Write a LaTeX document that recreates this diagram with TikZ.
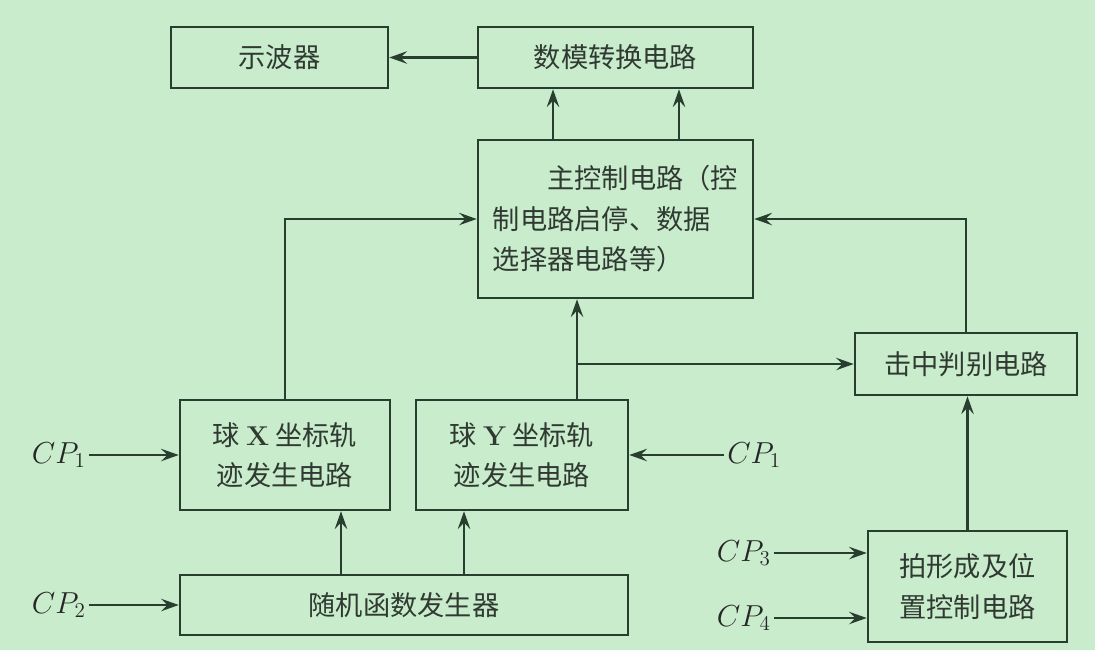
\documentclass[tikz,border=0pt]{standalone}
\usepackage{fontspec}
\newfontfamily\cjk{Noto Sans CJK SC}
\usetikzlibrary{arrows.meta, positioning}
\definecolor{bggreen}{RGB}{200,236,204}
\definecolor{linegreen}{RGB}{40,62,46}
\definecolor{textgray}{RGB}{48,58,50}

\begin{document}
\begin{tikzpicture}[
   x=0.02cm, y=-0.02cm,
   color=linegreen, line width=1.45pt,
   -{Stealth[length=10pt, width=7pt, inset=3.5pt]},
   block/.style = {draw, rectangle, inner sep=0pt, text=textgray, align=center,
                   font=\cjk\fontsize{15.5pt}{23pt}\selectfont},
   clk/.style = {inner sep=1pt, text=black!85, font=\fontsize{17pt}{20pt}\selectfont}]
   \fill[bggreen] (0,0) rectangle (1095,650);
   \useasboundingbox (0,0) rectangle (1095,650);

   \node[block, minimum width=4.34cm, minimum height=1.22cm] (osc) at (279.5,57.5) {示波器};
   \node[block, minimum width=5.5cm, minimum height=1.22cm]  (dac) at (615.5,57.5) {数模转换电路};
   \node[block, minimum width=5.5cm, minimum height=3.16cm, align=left] (ctrl) at (615.5,219)
      {\hspace{2em}主控制电路（控\\制电路启停、数据\\选择器电路等）};
   \node[block, minimum width=4.44cm, minimum height=1.24cm] (hit) at (966,364) {击中判别电路};
   \node[block, minimum width=4.2cm, minimum height=2.2cm]   (bx) at (285,455) {球 {\rmfamily\bfseries X} 坐标轨\\迹发生电路};
   \node[block, minimum width=4.24cm, minimum height=2.2cm]  (by) at (522,455) {球 {\rmfamily\bfseries Y} 坐标轨\\迹发生电路};
   \node[block, minimum width=8.96cm, minimum height=1.2cm]  (rnd) at (404,605) {随机函数发生器};
   \node[block, minimum width=3.98cm, minimum height=2.22cm] (pai) at (967.5,586.5) {拍形成及位\\置控制电路};

   \node[clk, left=1.8cm of bx]    (cp1)  {$CP_1$};
   \node[clk, left=1.8cm of rnd]   (cp2)  {$CP_2$};
   \node[clk, right=1.9cm of by]   (cp1b) {$CP_1$};
   \node[clk, left=1.86cm of pai, yshift=0.67cm]  (cp3) {$CP_3$};
   \node[clk, left=1.86cm of pai, yshift=-0.63cm] (cp4) {$CP_4$};

   \coordinate (j) at ([xshift=-0.77cm]ctrl.south);

   \draw (dac) -- (osc);
   \draw ([xshift=-1.25cm]ctrl.north) -- ([xshift=-1.25cm]dac.south);
   \draw ([xshift=1.27cm]ctrl.north) -- ([xshift=1.27cm]dac.south);
   \draw (bx.north) |- (ctrl.west);
   \draw (hit.north) |- (ctrl.east);
   \draw (j |- by.north) -- (j);
   \draw (j |- hit.west) -- (hit.west);
   \draw (pai.north) -- (pai.north |- hit.south);
   \draw ([xshift=1.12cm]bx.south |- rnd.north) -- ([xshift=1.12cm]bx.south);
   \draw ([xshift=-1.16cm]by.south |- rnd.north) -- ([xshift=-1.16cm]by.south);

   \draw (cp1) -- (bx);
   \draw (cp2) -- (rnd);
   \draw (cp1b) -- (by);
   \draw (cp3) -- (cp3 -| pai.west);
   \draw (cp4) -- (cp4 -| pai.west);
\end{tikzpicture}
\end{document}
